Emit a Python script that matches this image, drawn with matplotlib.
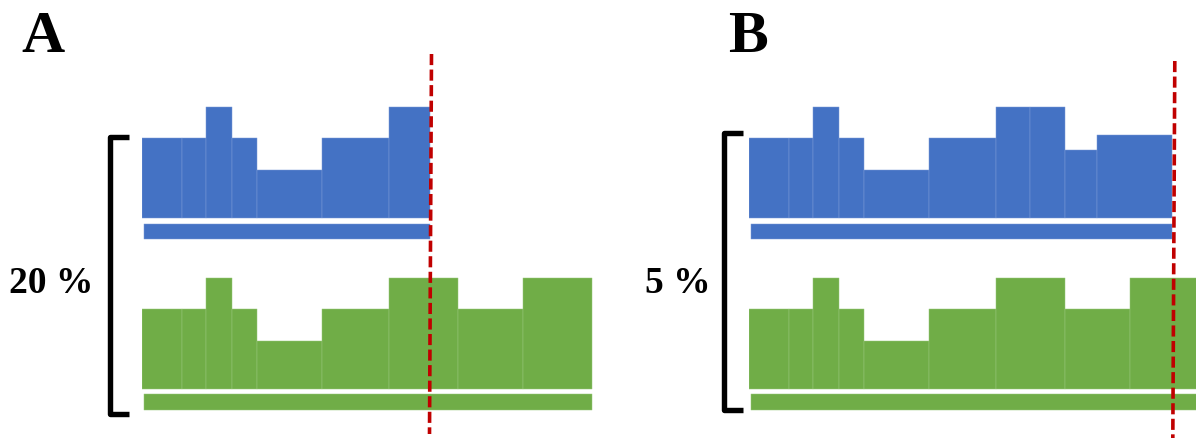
import numpy as np
import matplotlib
matplotlib.use("Agg")
import matplotlib.pyplot as plt

plt.rcParams['lines.scale_dashes'] = False

# ---------------- data ----------------
panel_letters = ["A", "B"]
panel_labels = ["20 %", "5 %"]

# segment edges (time units) and segment heights
edges_green = [0, 40, 64, 90, 115, 180, 247, 316, 381, 450]
heights_green = [79.5, 79.5, 111.5, 79.5, 48, 79.5, 111.5, 79.5, 111.5]

edges_blue_A = [0, 40, 64, 90, 115, 180, 247, 288]
heights_blue_A = [80, 80, 111.8, 80, 48.3, 80, 111.8]

edges_blue_B = [0, 40, 64, 90, 115, 180, 247, 281, 316, 348, 423]
heights_blue_B = [80, 80, 111.8, 80, 48.3, 80, 111.8, 111.8, 68.6, 83]

cutoffs = [288.5, 424.5]

# ---------------- style / layout ----------------
BLUE = "#4472C4"
BLUE_EDGE = "#7A9AD6"
GREEN = "#70AD47"
GREEN_EDGE = "#98C77A"
RED = "#C00000"
W, H = 1196, 439
FONT = "Liberation Serif"

fig = plt.figure(figsize=(W / 100, H / 100), dpi=100)
fig.patch.set_facecolor("white")

panels = [
    dict(left=142, blue=(edges_blue_A, heights_blue_A), cutoff=cutoffs[0],
         brx=-32.5, brtop=138, brbot=415, brend=-13, red=(55, 435),
         letter=(43.5, 52.5), label=(51, 293)),
    dict(left=749.3, blue=(edges_blue_B, heights_blue_B), cutoff=cutoffs[1],
         brx=-25.5, brtop=133.5, brbot=411, brend=-6, red=(62, 442),
         letter=(748, 52.5), label=(678, 293)),
]

blue_base, green_base = 219.3, 390.0
blue_thin = (224.7, 240.3)
green_thin = (395.3, 411.0)
AX_W = 470


def steps(ax, edges, heights, base, color, edge):
    e = np.asarray(edges, dtype=float)
    h = np.asarray(heights, dtype=float)
    ax.bar(e[:-1], -h, width=np.diff(e), bottom=base, align="edge",
           color=color, edgecolor=edge, linewidth=0.35)


for i, p in enumerate(panels):
    ax = fig.add_axes([p["left"] / W, 0, AX_W / W, 1])
    ax.set_xlim(0, AX_W)
    ax.set_ylim(H, 0)
    ax.axis("off")

    be, bh = p["blue"]
    steps(ax, be, bh, blue_base, BLUE, BLUE_EDGE)
    steps(ax, edges_green, heights_green, green_base, GREEN, GREEN_EDGE)

    # thin timeline bars
    for e, (t0, t1), c, ec in [(be, blue_thin, BLUE, BLUE_EDGE),
                               (edges_green, green_thin, GREEN, GREEN_EDGE)]:
        ax.bar([e[0] + 1.5], [-(t1 - t0)], width=[e[-1] - e[0] - 2],
               bottom=t1, align="edge", color=c, edgecolor=ec, linewidth=0.35)

    # bracket
    bx = p["brx"]
    ax.plot([p["brend"], bx, bx, p["brend"]],
            [p["brtop"], p["brtop"], p["brbot"], p["brbot"]],
            color="black", lw=3.9, solid_joinstyle="round",
            solid_capstyle="butt", clip_on=False)

    # red dashed cutoff line
    c = p["cutoff"]
    ax.plot([c + 1, c - 1], list(p["red"]), color=RED, lw=2.6,
            dashes=(8.0, 3.2), dash_capstyle="butt", clip_on=False)

    # texts
    lx, ly = p["letter"]
    fig.text(lx / W, 1 - ly / H, panel_letters[i], fontsize=43,
             fontweight="bold", family=FONT, ha="center", va="baseline")
    tx, ty = p["label"]
    fig.text(tx / W, 1 - ty / H, panel_labels[i], fontsize=27,
             fontweight="bold", family=FONT, ha="center", va="baseline")

fig.savefig("out.png", dpi=100, facecolor="white")
